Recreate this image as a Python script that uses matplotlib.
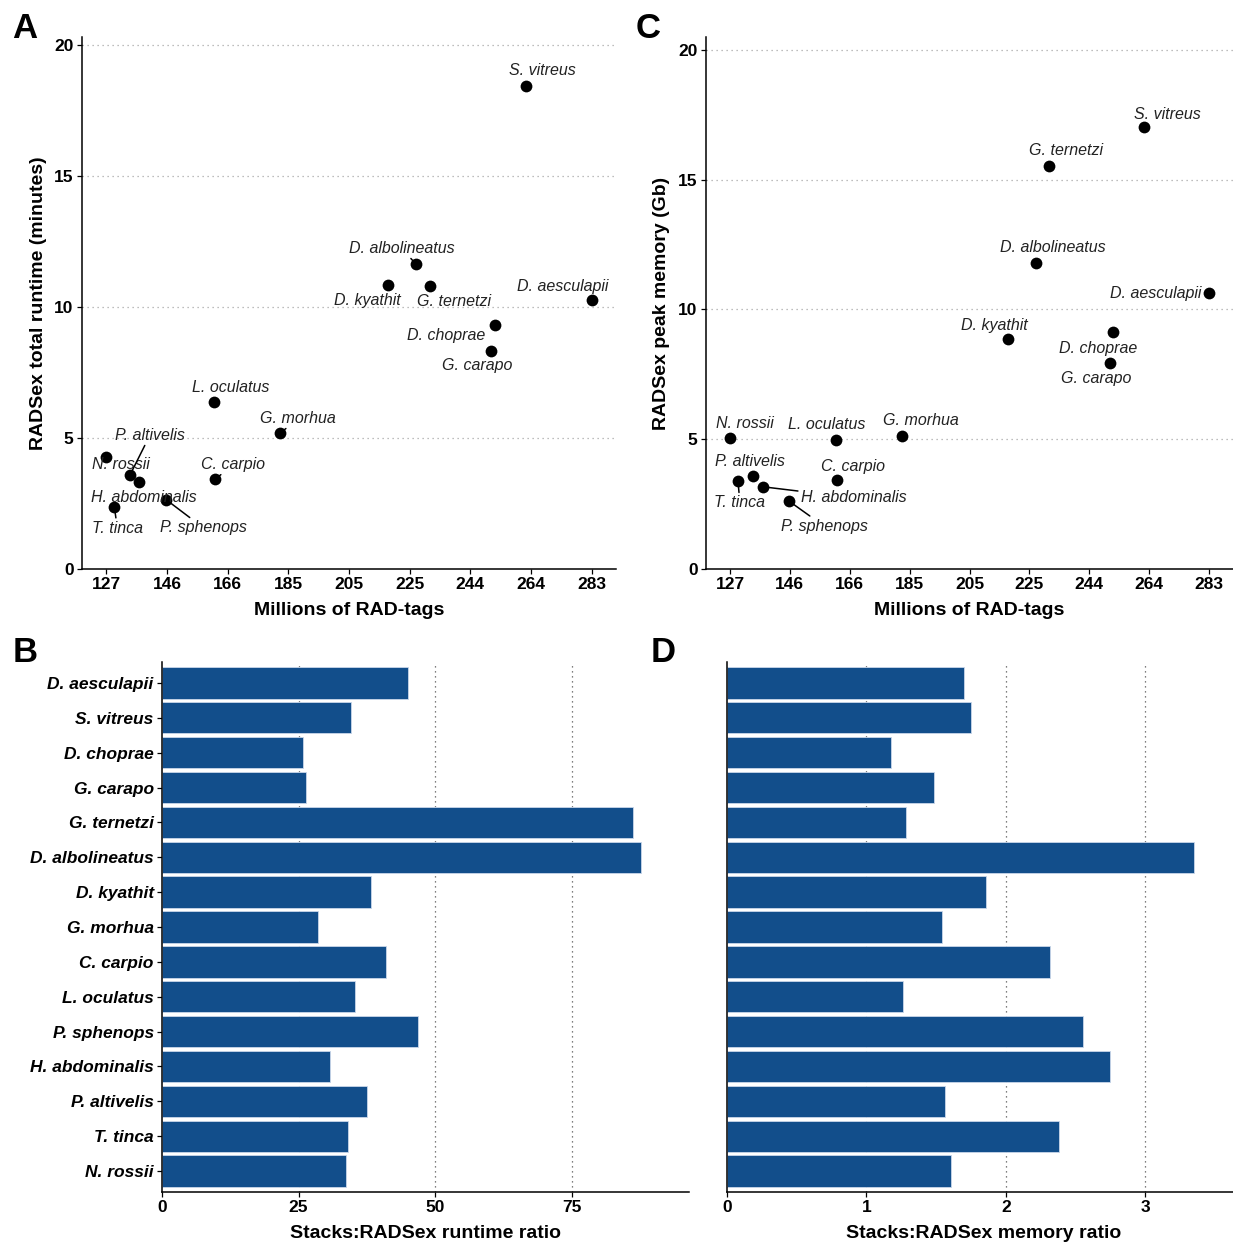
import numpy as np
import matplotlib
matplotlib.use("Agg")
import matplotlib.pyplot as plt

plt.rcParams['font.family'] = ['Liberation Sans', 'DejaVu Sans']

# ---------------- data (ordered by number of RAD-tags, ascending) ----------------
species = ["N. rossii", "T. tinca", "P. altivelis", "H. abdominalis", "P. sphenops",
           "L. oculatus", "C. carpio", "G. morhua", "D. kyathit", "D. albolineatus",
           "G. ternetzi", "G. carapo", "D. choprae", "S. vitreus", "D. aesculapii"]
rad_tags = [127.0, 129.6, 134.6, 137.6, 146.3, 161.5, 162.0, 182.9, 217.5, 226.5,
            231.0, 250.7, 251.8, 261.8, 283.0]
runtime_min = [4.29, 2.36, 3.58, 3.31, 2.64, 6.37, 3.42, 5.18, 10.83, 11.63,
               10.79, 8.32, 9.30, 18.43, 10.25]
memory_gb = [5.03, 3.40, 3.60, 3.17, 2.61, 4.97, 3.43, 5.13, 8.87, 11.79,
             15.54, 7.95, 9.13, 17.03, 10.64]
runtime_ratio = [33.7, 34.1, 37.6, 30.8, 46.9, 35.4, 41.0, 28.6, 38.2, 87.7,
                 86.3, 26.3, 25.9, 34.6, 45.1]
memory_ratio = [1.605, 2.381, 1.564, 2.745, 2.55, 1.265, 2.316, 1.539, 1.854, 3.351,
                1.287, 1.488, 1.178, 1.749, 1.697]
x_tick_labels = ["127", "146", "166", "185", "205", "225", "244", "264", "283"]
runtime_ticks = [0, 5, 10, 15, 20]
memory_ticks = [0, 5, 10, 15, 20]
runtime_ratio_ticks = [0, 25, 50, 75]
memory_ratio_ticks = [0, 1, 2, 3]

# ---------------- label placement (pixel offsets, leader line flag) ----------------
offs_A = {
    "S. vitreus": (17, 16, False), "D. albolineatus": (-14, 16, True),
    "D. kyathit": (-21, -15, False), "G. ternetzi": (24, -15, False),
    "D. aesculapii": (-29, 14, False), "D. choprae": (-49, -10, False),
    "G. carapo": (-14, -15, False), "L. oculatus": (17, 15, False),
    "G. morhua": (18, 15, True), "P. altivelis": (20, 40, True),
    "N. rossii": (15, -8, False), "H. abdominalis": (5, -15, False),
    "C. carpio": (18, 15, True), "P. sphenops": (37, -28, True),
    "T. tinca": (3, -21, True),
}
offs_C = {
    "S. vitreus": (23, 13, False), "G. ternetzi": (17, 15, False),
    "D. albolineatus": (17, 16, False), "D. aesculapii": (-53, -1, False),
    "D. kyathit": (-14, 13, False), "D. choprae": (-15, -16, False),
    "G. carapo": (-14, -16, False), "N. rossii": (15, 15, False),
    "L. oculatus": (-9, 16, False), "G. morhua": (19, 15, False),
    "P. altivelis": (-3, 14, False), "C. carpio": (16, 13, False),
    "T. tinca": (2, -22, True), "H. abdominalis": (91, -11, True),
    "P. sphenops": (35, -25, True),
}

W, H = 1233, 1243
fig = plt.figure(figsize=(W / 100, H / 100), dpi=100)

def frac(l, r, t, b):
    return [l / W, 1 - b / H, (r - l) / W, (b - t) / H]

BAR_COLOR = "#124e8b"

def style_axes(ax):
    for s in ["top", "right"]:
        ax.spines[s].set_visible(False)
    for s in ["left", "bottom"]:
        ax.spines[s].set_linewidth(1.1)
        ax.spines[s].set_color("black")
    ax.tick_params(axis="both", length=3.5, width=0.9, pad=2.5, labelsize=12.5)
    for lab in ax.get_xticklabels() + ax.get_yticklabels():
        lab.set_fontweight("bold")

def scatter_panel(ax, yvals, yticks, ylim_top, offs, ylabel, ylabel_x):
    ax.scatter(rad_tags, yvals, s=72, color="black", zorder=3, linewidths=0)
    xt = np.linspace(min(rad_tags), max(rad_tags), len(x_tick_labels))
    ax.set_xticks(xt)
    ax.set_xticklabels(x_tick_labels)
    rng = max(rad_tags) - min(rad_tags)
    ax.set_xlim(min(rad_tags) - 0.05 * rng, max(rad_tags) + 0.05 * rng)
    ax.set_yticks(yticks)
    ax.set_ylim(0, ylim_top)
    for yv in yticks[1:]:
        ax.axhline(yv, color="#a8a8a8", lw=0.9, ls=(0, (1, 3)), zorder=0)
    for name, xv, yv in zip(species, rad_tags, yvals):
        dx, dy, line = offs[name]
        kw = {}
        if line:
            kw["arrowprops"] = dict(arrowstyle="-", color="black", lw=1.1,
                                    shrinkA=0, shrinkB=2)
        ax.annotate(name, xy=(xv, yv), xytext=(dx, dy), textcoords="offset pixels",
                    ha="center", va="center", fontsize=11.5, fontstyle="italic",
                    color="#222222", zorder=4, **kw)
    style_axes(ax)
    ax.set_xlabel("Millions of RAD-tags", fontsize=14, fontweight="bold")
    ax.xaxis.set_label_coords(0.5, -0.062)
    ax.set_ylabel(ylabel, fontsize=14, fontweight="bold")
    ax.yaxis.set_label_coords(ylabel_x, 0.5)

def bar_panel(ax, vals, xticks, xlabel, show_labels):
    ypos = np.arange(1, len(species) + 1)
    for xv in xticks[1:]:
        ax.axvline(xv, color="#555555", lw=0.9, ls=(0, (1, 3)), zorder=0)
    ax.barh(ypos, vals, height=0.9, color=BAR_COLOR, edgecolor="#c9d7ea",
            linewidth=0.6, zorder=2)
    ax.set_yticks(ypos)
    if show_labels:
        ax.set_yticklabels(species)
    else:
        ax.set_yticklabels([])
    ax.set_ylim(0.4, len(species) + 0.6)
    ax.set_xlim(0, max(vals) * 1.1)
    ax.set_xticks(xticks)
    style_axes(ax)
    if show_labels:
        for lab in ax.get_yticklabels():
            lab.set_fontsize(12.5)
            lab.set_fontstyle("italic")
    else:
        ax.tick_params(axis="y", length=0)
    ax.set_xlabel(xlabel, fontsize=14, fontweight="bold")
    ax.xaxis.set_label_coords(0.5, -0.063)

# Panel A
axA = fig.add_axes(frac(82, 616, 37, 569))
scatter_panel(axA, runtime_min, runtime_ticks, 20.3, offs_A,
              "RADSex total runtime (minutes)", -0.0655)
# Panel C
axC = fig.add_axes(frac(706, 1233, 37, 569))
scatter_panel(axC, memory_gb, memory_ticks, 20.5, offs_C,
              "RADSex peak memory (Gb)", -0.068)
# Panel B
axB = fig.add_axes(frac(162, 689, 662, 1192))
bar_panel(axB, runtime_ratio, runtime_ratio_ticks, "Stacks:RADSex runtime ratio", True)
# Panel D
axD = fig.add_axes(frac(727, 1241, 662, 1192))
bar_panel(axD, memory_ratio, memory_ratio_ticks, "Stacks:RADSex memory ratio", False)

for letter, (px, py) in {"A": (25, 28), "C": (648, 28), "B": (25, 652), "D": (663, 652)}.items():
    fig.text(px / W, 1 - py / H, letter, fontsize=25, fontweight="bold",
             ha="center", va="center")

fig.savefig("out.png", dpi=100)
